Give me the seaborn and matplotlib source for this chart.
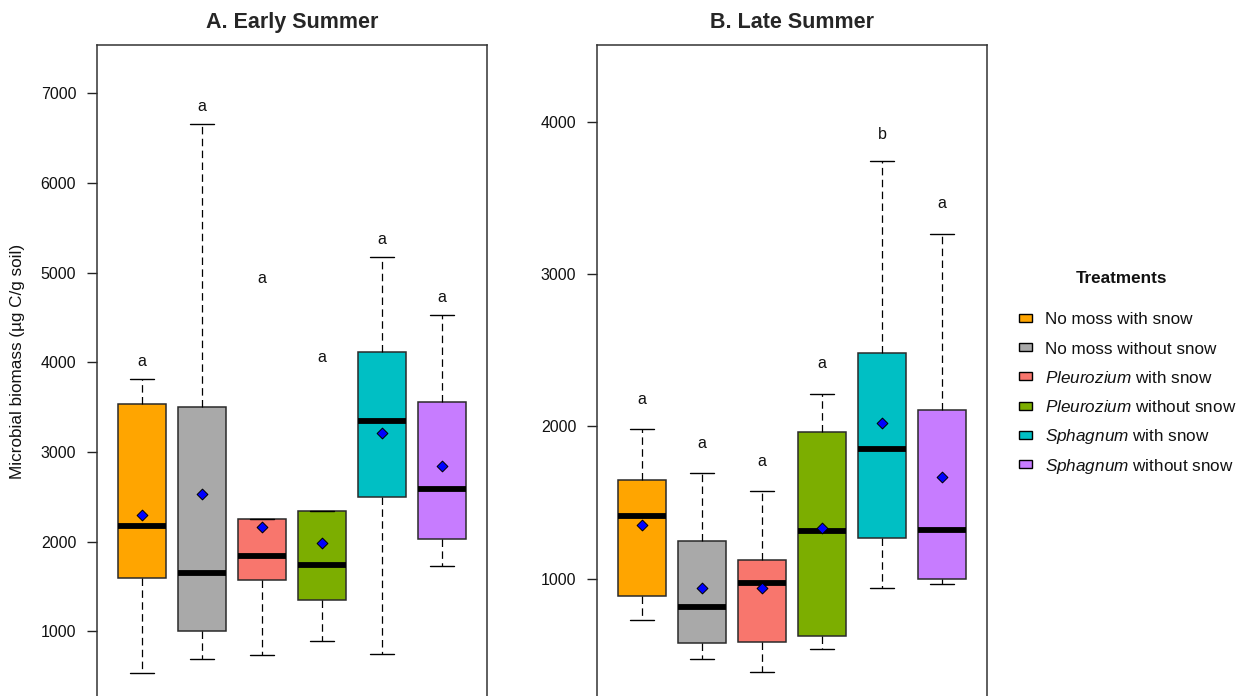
import numpy as np
import pandas as pd
import matplotlib
matplotlib.use("Agg")
import matplotlib.pyplot as plt
from matplotlib.patches import Rectangle
import seaborn as sns

# Treatments, fill colours and legend labels
treatments = [
    "No moss with snow",
    "No moss without snow",
    "Pleurozium with snow",
    "Pleurozium without snow",
    "Sphagnum with snow",
    "Sphagnum without snow",
]
legend_labels = [
    "No moss with snow",
    "No moss without snow",
    r"$\it{Pleurozium}$ with snow",
    r"$\it{Pleurozium}$ without snow",
    r"$\it{Sphagnum}$ with snow",
    r"$\it{Sphagnum}$ without snow",
]
colors = ["#FFA500", "#A9A9A9", "#F8766D", "#7CAE00", "#00BFC4", "#C77CFF"]

# Early summer: five-number summaries, means and significance letters
early_low = [540, 690, 735, 890, 745, 1730]
early_q1 = [1590, 1000, 1570, 1355, 2500, 2030]
early_med = [2170, 1655, 1845, 1740, 3350, 2585]
early_q3 = [3530, 3500, 2250, 2340, 4120, 3560]
early_high = [3810, 6660, 2250, 2340, 5180, 4525]
early_mean = [2300, 2535, 2165, 1990, 3215, 2845]
early_letters = ["a", "a", "a", "a", "a", "a"]
early_letter_y = [3955, 6805, 4890, 4005, 5320, 4670]

# Late summer
late_low = [730, 470, 385, 540, 940, 965]
late_q1 = [885, 575, 580, 625, 1265, 1000]
late_med = [1410, 815, 970, 1310, 1850, 1320]
late_q3 = [1650, 1250, 1120, 1965, 2485, 2110]
late_high = [1980, 1695, 1575, 2215, 3745, 3265]
late_mean = [1350, 935, 935, 1335, 2020, 1665]
late_letters = ["a", "a", "a", "a", "b", "a"]
late_letter_y = [2144, 1860, 1739, 2381, 3886, 3433]

sns.set_style("ticks")
plt.rcParams["font.family"] = ["Liberation Sans", "DejaVu Sans"]
plt.rcParams["mathtext.fontset"] = "custom"
plt.rcParams["mathtext.rm"] = "Liberation Sans"
plt.rcParams["mathtext.it"] = "Liberation Sans:italic"
plt.rcParams["mathtext.bf"] = "Liberation Sans:bold"

W, H = 1251, 696
fig = plt.figure(figsize=(W / 100, H / 100), dpi=100)


def summary_frame(low, q1, med, q3, high):
    rows = []
    for t, vals in zip(treatments, zip(low, q1, med, q3, high)):
        for v in vals:
            rows.append({"treatment": t, "value": v})
    return pd.DataFrame(rows)


def panel(ax, title, low, q1, med, q3, high, mean, letters, letter_y, ylim, yticks):
    df = summary_frame(low, q1, med, q3, high)
    sns.boxplot(
        data=df, x="treatment", y="value", hue="treatment",
        order=treatments, hue_order=treatments, palette=colors,
        saturation=1, legend=False, dodge=False, width=0.8, whis=(0, 100),
        showfliers=False, linecolor="#2a2a2a", linewidth=1.1,
        medianprops=dict(color="black", linewidth=4.2, solid_capstyle="butt"),
        whiskerprops=dict(color="black", linewidth=0.9, linestyle=(0, (6, 3.5))),
        capprops=dict(color="black", linewidth=1.0),
        ax=ax,
    )
    sns.stripplot(
        x=treatments, y=mean, order=treatments, jitter=False,
        marker="D", color="#0000FF", size=5.5, edgecolor="black",
        linewidth=0.7, ax=ax, zorder=6,
    )
    for i, (lab, ly) in enumerate(zip(letters, letter_y)):
        ax.text(i, ly, lab, ha="center", va="baseline", fontsize=11.5, color="#111111")
    ax.set_xlim(-0.75, 5.75)
    ax.set_ylim(*ylim)
    ax.set_yticks(yticks)
    ax.set_yticklabels([str(v) for v in yticks])
    ax.set_xticks([])
    ax.set_xlabel("")
    ax.set_ylabel("")
    ax.set_title(title, fontsize=15.5, fontweight="bold", pad=12)
    for s in ax.spines.values():
        s.set_visible(True)
        s.set_color("#333333")
        s.set_linewidth(1.1)
    ax.tick_params(axis="y", length=7, width=1.0, pad=8, labelsize=11.5,
                   color="#222222", labelcolor="#111111")


top_px, bottom_px = 45, 721
ax_h = (bottom_px - top_px) / H
ax_b = 1 - bottom_px / H
axA = fig.add_axes([97 / W, ax_b, 390 / W, ax_h])
axB = fig.add_axes([597 / W, ax_b, 390 / W, ax_h])

panel(axA, "A. Early Summer", early_low, early_q1, early_med, early_q3, early_high,
      early_mean, early_letters, early_letter_y, (0, 7539),
      [1000, 2000, 3000, 4000, 5000, 6000, 7000])
panel(axB, "B. Late Summer", late_low, late_q1, late_med, late_q3, late_high,
      late_mean, late_letters, late_letter_y, (64, 4506),
      [1000, 2000, 3000, 4000])

fig.text(18 / W, 1 - 361 / H, "Microbial biomass (µg C/g soil)", rotation=90,
         ha="center", va="center", fontsize=12.3, color="#111111")

# Legend: title, colour keys and labels laid out in figure pixels
fig.text(1122 / W, 1 - 283 / H, "Treatments", ha="center", va="baseline",
         fontsize=12.3, fontweight="bold", color="#111111")
row0, row_step = 318, 29.2
key_w, key_h = 13, 8
for i, (c, lab) in enumerate(zip(colors, legend_labels)):
    yc = row0 + i * row_step
    fig.add_artist(Rectangle(
        (1018.5 / W, 1 - (yc + key_h / 2) / H), key_w / W, key_h / H,
        transform=fig.transFigure, facecolor=c, edgecolor="black", linewidth=1.0,
    ))
    fig.text(1045 / W, 1 - (yc + 6.5) / H, lab, ha="left", va="baseline",
             fontsize=12.3, color="#111111")

fig.savefig("out.png", dpi=100)
